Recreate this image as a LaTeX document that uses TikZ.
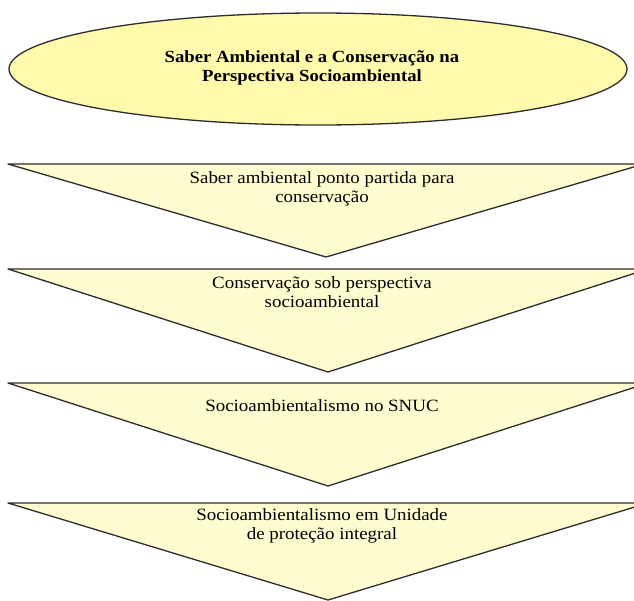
\documentclass[tikz,border=0pt]{standalone}
\usepackage{fontspec}
\setmainfont{Liberation Serif}[FakeStretch=1.1]
\definecolor{ellfill}{RGB}{255,250,172}
\definecolor{trifill}{RGB}{255,252,208}
\definecolor{edgecol}{RGB}{45,45,45}
\begin{document}
\begin{tikzpicture}[x=1pt,y=-1pt]
\tikzset{
  tri/.style={fill=trifill,draw=edgecol,line width=1.3pt,line join=round},
  ell/.style={fill=ellfill,draw=edgecol,line width=1.3pt},
  lbl/.style={align=center,font=\fontsize{17.2}{19.5}\selectfont,inner sep=0pt,text=black}
}
\useasboundingbox (0,0) rectangle (634,600);
\fill[white] (0,0) rectangle (634,600);
\clip (0,0) rectangle (634,600);
% title ellipse
\draw[ell] (318,69) ellipse [x radius=309, y radius=56];
\node[lbl,font=\fontsize{17}{19.5}\selectfont\bfseries] (title) at (312,68)
  {Saber Ambiental e a Conservação na\\Perspectiva Socioambiental};
% triangles
\draw[tri] (8,164) -- (644,164) -- (326,257) -- cycle;
\draw[tri] (8,269) -- (648,269) -- (328,372) -- cycle;
\draw[tri] (8,383) -- (648,383) -- (328,486) -- cycle;
\draw[tri] (8,503) -- (648,503) -- (328,600) -- cycle;
% labels
\node[lbl] (s1) at (322,189) {Saber ambiental ponto partida para\\conservação};
\node[lbl] (s2) at (322,292) {Conservação sob perspectiva\\socioambiental};
\node[lbl] (s3) at (322,406) {Socioambientalismo no SNUC};
\node[lbl] (s4) at (322,526) {Socioambientalismo em Unidade\\de proteção integral};
\end{tikzpicture}
\end{document}
